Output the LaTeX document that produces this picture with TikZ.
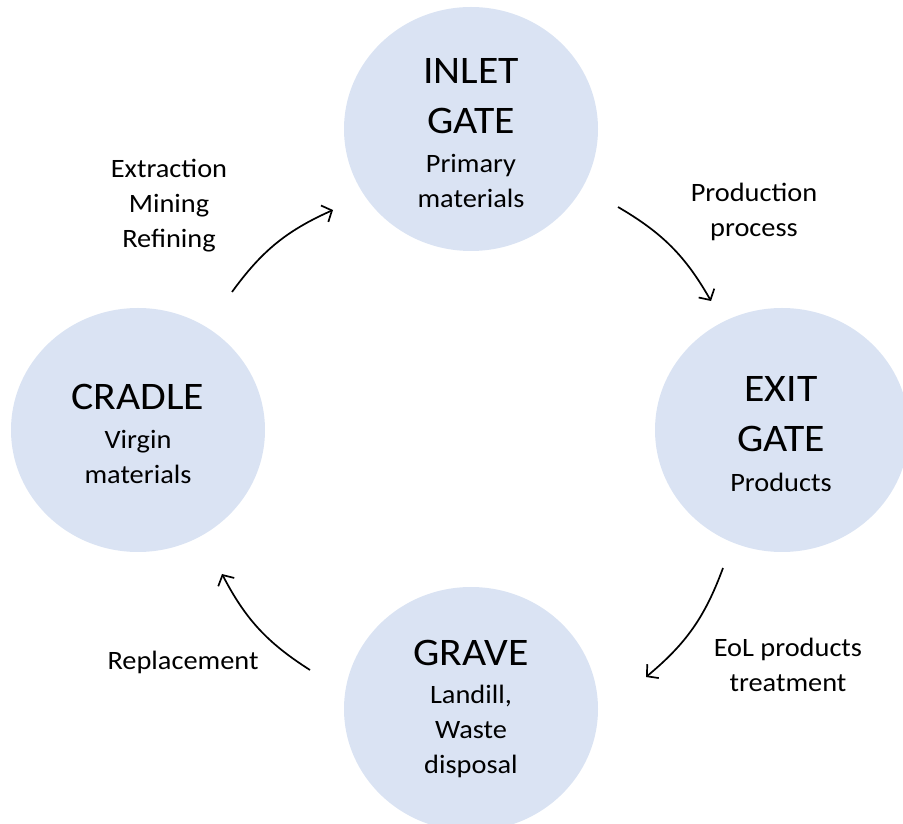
\documentclass[tikz,border=0pt]{standalone}
\usepackage{fontspec}
\setmainfont{Carlito}[FakeStretch=1.07]
\usetikzlibrary{shapes.geometric,arrows.meta}
\definecolor{stagefill}{HTML}{DAE3F3}
\tikzset{
  stage/.style={ellipse, fill=stagefill, minimum width=254pt, minimum height=244pt, inner sep=0pt},
  title/.style={font=\fontsize{39}{50}\selectfont, inner sep=0pt, anchor=center},
  sub/.style={font=\fontsize{26.5}{35}\selectfont, inner sep=0pt, anchor=center, align=center},
  flow/.style={line width=1.7pt, -{Straight Barb[length=8pt,width=18pt,line width=1.7pt]}},
}
\begin{document}
\begin{tikzpicture}[x=1pt,y=1pt]
\useasboundingbox (0,0) rectangle (903,823);
% stages (y measured from bottom: 823 - pixel y)
\node[stage] (inlet) at (471,694) {};
\node[stage] (exit) at (782,393) {};
\node[stage] (cradle) at (138,393) {};
\node[stage] (grave) at (471,114) {};
% texts
\node[title] (inletT1) at (471,752) {INLET};
\node[title] (inletT2) at (471,702) {GATE};
\node[sub] (inletS) at (471,642) {Primary\\materials};
\node[title] (exitT1) at (781,434) {EXIT};
\node[title] (exitT2) at (781,384) {GATE};
\node[sub] (exitS) at (781,341) {Products};
\node[title] (cradleT) at (138,426) {CRADLE};
\node[sub] (cradleS) at (138,366.5) {Virgin\\materials};
\node[title] (graveT) at (471,170) {GRAVE};
\node[sub] (graveS) at (471,92) {Landill,\\Waste\\disposal};
% flow labels
\node[sub] (l1) at (169,617) {Extraction\\Mining\\Refining};
\node[sub] (l2) at (754,611) {Production\\process};
\node[sub] (l3) at (788,158) {EoL products\\treatment};
\node[sub] (l4) at (183,160.5) {Replacement};
% arrow ends
\coordinate (a1s) at (232,531);
\coordinate (a1e) at (333,613);
\coordinate (a2s) at (618,616);
\coordinate (a2e) at (711,522);
\coordinate (a3s) at (723,255);
\coordinate (a3e) at (646,146);
\coordinate (a4s) at (310,153);
\coordinate (a4e) at (222,249);
\draw[flow] (a1s) to[bend left=15] (a1e);
\draw[flow] (a2s) to[bend left=15] (a2e);
\draw[flow] (a3s) to[bend left=15] (a3e);
\draw[flow] (a4s) to[bend left=15] (a4e);
\end{tikzpicture}
\end{document}
